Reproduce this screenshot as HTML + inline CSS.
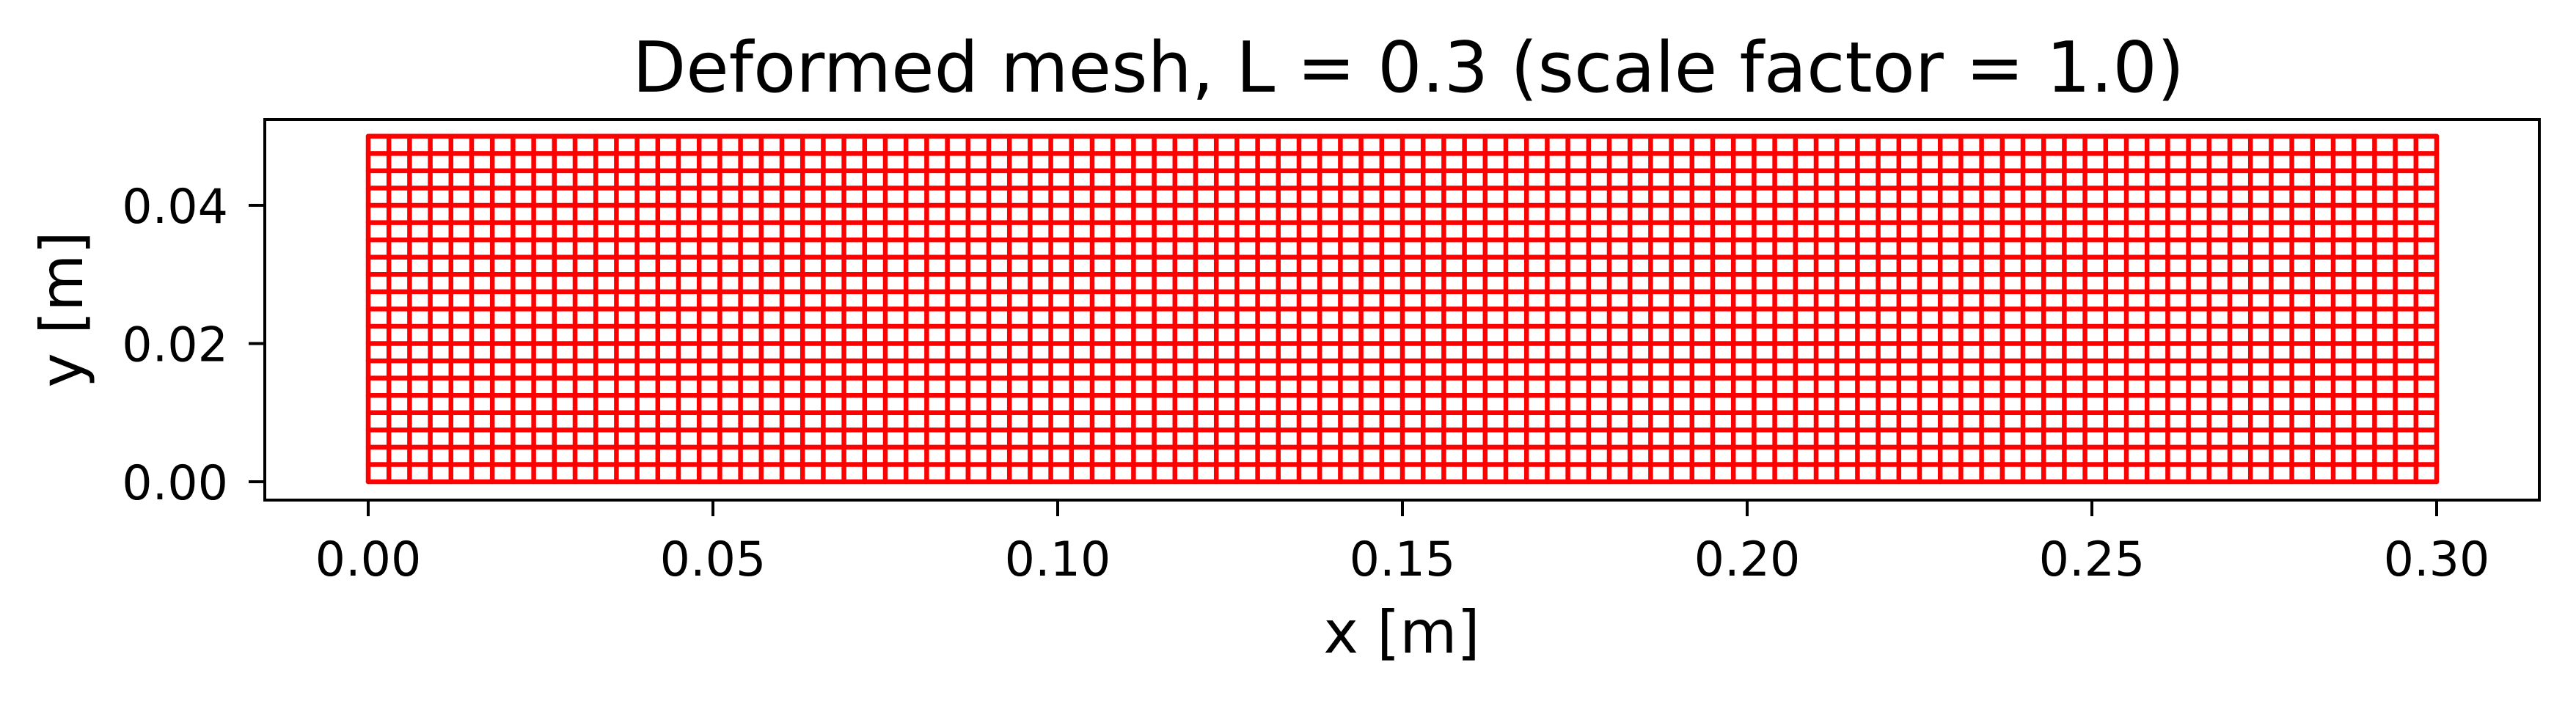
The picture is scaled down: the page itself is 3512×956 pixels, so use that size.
<!DOCTYPE html>
<html>
<head>
<meta charset="utf-8">
<style>
  html, body { margin: 0; padding: 0; background: #fff; }
  svg { display: block; }
  text { font-family: "DejaVu Sans", "Liberation Sans", sans-serif; fill: #000; }
</style>
</head>
<body>
<svg id="chart" width="3512" height="956" viewBox="0 0 3512 956" xmlns="http://www.w3.org/2000/svg">
  <rect x="0" y="0" width="3512" height="956" fill="#fff"/>
  <text x="1920" y="125" font-size="95" text-anchor="middle">Deformed mesh, L = 0.3 (scale factor = 1.0)</text>
  <g id="mesh"></g>
  <g id="xticks"></g>
  <g id="yticks"></g>
  <rect x="361" y="163" width="3101" height="519" fill="none" stroke="#000" stroke-width="4"/>
  <text x="1911" y="890" font-size="80" text-anchor="middle">x [m]</text>
  <text x="0" y="0" font-size="80" text-anchor="middle" transform="translate(112,422) rotate(-90)">y [m]</text>
</svg>
<script>
const meshLength = 0.3;
const meshHeight = 0.05;
const meshNx = 100;
const meshNy = 20;
const xTickValues = [0.00, 0.05, 0.10, 0.15, 0.20, 0.25, 0.30];
const xTickLabels = ["0.00", "0.05", "0.10", "0.15", "0.20", "0.25", "0.30"];
const yTickValues = [0.00, 0.02, 0.04];
const yTickLabels = ["0.00", "0.02", "0.04"];

const NS = "http://www.w3.org/2000/svg";
function xs(v) { return 502 + (v / 0.05) * 470; }
function ys(v) { return 657 - (v / 0.02) * 188.5; }
function mk(tag, attrs, parent) {
  const el = document.createElementNS(NS, tag);
  for (const k in attrs) el.setAttribute(k, attrs[k]);
  parent.appendChild(el);
  return el;
}
const mesh = document.getElementById('mesh');
for (let i = 0; i <= meshNx; i++) {
  const xv = meshLength * i / meshNx;
  const ln = mk('line', {x1: xs(xv), x2: xs(xv), y1: ys(0), y2: ys(meshHeight), stroke: '#ff0000', 'stroke-width': 6.5, 'stroke-linecap': 'round'}, mesh);
  
  
}
for (let j = 0; j <= meshNy; j++) {
  const yv = meshHeight * j / meshNy;
  const ln = mk('line', {x1: xs(0), x2: xs(meshLength), y1: ys(yv), y2: ys(yv), stroke: '#ff0000', 'stroke-width': 6.5, 'stroke-linecap': 'round'}, mesh);
  
  
}
const xt = document.getElementById('xticks');
xTickValues.forEach((v, i) => {
  const t = mk('line', {x1: xs(v), x2: xs(v), y1: 682, y2: 704, stroke: '#000', 'stroke-width': 4}, xt);
  
  
  const tx = mk('text', {x: xs(v), y: 785, 'font-size': 65, 'text-anchor': 'middle'}, xt);
  tx.textContent = xTickLabels[i];
  
  
});
const yt = document.getElementById('yticks');
yTickValues.forEach((v, i) => {
  const t = mk('line', {x1: 339, x2: 361, y1: ys(v), y2: ys(v), stroke: '#000', 'stroke-width': 4}, yt);
  
  
  const tx = mk('text', {x: 311, y: ys(v) + 24, 'font-size': 65, 'text-anchor': 'end'}, yt);
  tx.textContent = yTickLabels[i];
  
  
});
</script>
</body>
</html>
